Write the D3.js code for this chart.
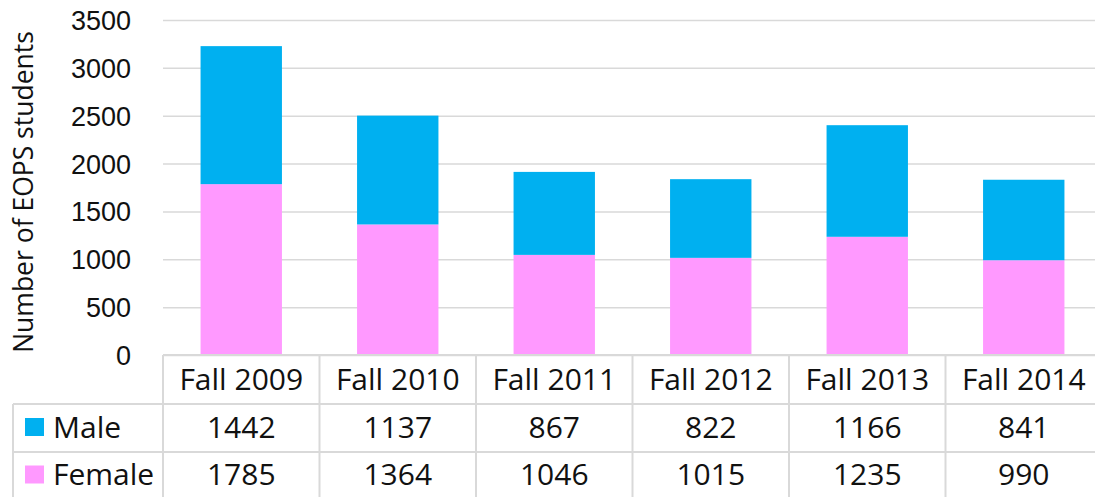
<!DOCTYPE html>
<html>
<head>
  <meta charset="utf-8">
  <style type="text/css">
    body { margin: 0; background: #fff; }
    svg { display: block; font-family: "Open Sans", sans-serif; }
    .axis path { display: none; }
    .axis line { stroke: #d9d9d9; stroke-width: 1.5px; }
    .axis text { font-size: 27px; fill: #111; }
    .grid-line { stroke: #d9d9d9; stroke-width: 2px; }
    .cell-text { font-size: 30px; fill: #111; }
  </style>
</head>
<body>
  <script src="https://d3js.org/d3.v7.min.js"></script>
  <script>
  // data
  var years = ["Fall 2009", "Fall 2010", "Fall 2011", "Fall 2012", "Fall 2013", "Fall 2014"];
  var male = [1442, 1137, 867, 822, 1166, 841];
  var female = [1785, 1364, 1046, 1015, 1235, 990];
  var yTicks = [0, 500, 1000, 1500, 2000, 2500, 3000, 3500];

  var seriesNames = ["Male", "Female"];
  var colors = {Male: "#00b0f0", Female: "#ff99ff"};

  var width = 1095, height = 497;
  var plotLeft = 163, plotRight = 1102, plotTop = 20, plotBottom = 355;
  var rowLines = [355, 404, 452, 501];
  var tableLeft = 13;

  var x = d3.scaleBand()
    .domain(years)
    .range([plotLeft, plotRight])
    .padding(0);

  var y = d3.scaleLinear()
    .domain([0, 3500])
    .range([plotBottom, plotTop]);

  var barW = x.bandwidth() * 0.52;

  var svg = d3.select("body").append("svg")
    .attr("width", width)
    .attr("height", height);

  // gridlines + y labels
  var yAxis = d3.axisLeft(y)
    .tickValues(yTicks)
    .tickFormat(d3.format("d"))
    .tickSize(-(plotRight - plotLeft))
    .tickPadding(32);

  svg.append("g")
    .attr("class", "y axis")
    .attr("transform", "translate(" + plotLeft + ",0)")
    .call(yAxis)
    .call(function(g) { g.selectAll(".tick text").attr("dy", "0.35em"); });

  // y title
  svg.append("text")
    .attr("transform", "translate(33," + 192 + ") rotate(-90)")
    .attr("text-anchor", "middle")
    .style("font-size", "26.5px")
    .style("fill", "#111")
    .text("Number of EOPS students");

  // stacked bars
  var stackData = years.map(function(d, i) {
    return {year: d, Female: female[i], Male: male[i]};
  });
  var stack = d3.stack().keys(["Female", "Male"])(stackData);

  svg.selectAll(".series")
    .data(stack)
    .enter().append("g")
      .attr("class", "series")
      .attr("fill", function(d) { return colors[d.key]; })
    .selectAll("rect")
    .data(function(d) { return d; })
    .enter().append("rect")
      .attr("x", function(d) { return x(d.data.year) + (x.bandwidth() - barW) / 2; })
      .attr("y", function(d) { return y(d[1]); })
      .attr("width", barW)
      .attr("height", function(d) { return y(d[0]) - y(d[1]); });

  // data table
  var table = svg.append("g").attr("class", "table");

  table.append("line").attr("class", "grid-line")
    .attr("x1", plotLeft).attr("x2", plotRight)
    .attr("y1", rowLines[0]).attr("y2", rowLines[0]);

  [1, 2, 3].forEach(function(r) {
    table.append("line").attr("class", "grid-line")
      .attr("x1", tableLeft).attr("x2", plotRight)
      .attr("y1", rowLines[r]).attr("y2", rowLines[r]);
  });

  table.append("line").attr("class", "grid-line")
    .attr("x1", tableLeft).attr("x2", tableLeft)
    .attr("y1", rowLines[1]).attr("y2", rowLines[3]);

  years.concat(["end"]).forEach(function(d, i) {
    var xx = plotLeft + i * x.bandwidth();
    table.append("line").attr("class", "grid-line")
      .attr("x1", xx).attr("x2", xx)
      .attr("y1", rowLines[0]).attr("y2", rowLines[3]);
  });

  // category labels
  table.selectAll(".cat")
    .data(years)
    .enter().append("text")
      .attr("class", "cell-text")
      .attr("x", function(d) { return x(d) + x.bandwidth() / 2; })
      .attr("y", (rowLines[0] + rowLines[1]) / 2)
      .attr("dy", "0.35em")
      .attr("text-anchor", "middle")
      .text(function(d) { return d; });

  var rows = [male, female];
  seriesNames.forEach(function(name, r) {
    var cy = (rowLines[r + 1] + rowLines[r + 2]) / 2 - (r == 1 ? 2 : 1);
    table.append("rect")
      .attr("x", 25).attr("y", cy - 9)
      .attr("width", 19).attr("height", 18)
      .attr("fill", colors[name]);
    table.append("text")
      .attr("class", "cell-text")
      .attr("x", 53).attr("y", cy)
      .attr("dy", "0.35em")
      .text(name);
    table.selectAll(".v" + r)
      .data(rows[r])
      .enter().append("text")
        .attr("class", "cell-text")
        .attr("x", function(d, i) { return x(years[i]) + x.bandwidth() / 2; })
        .attr("y", cy)
        .attr("dy", "0.35em")
        .attr("text-anchor", "middle")
        .text(function(d) { return d; });
  });
  </script>
</body>
</html>
